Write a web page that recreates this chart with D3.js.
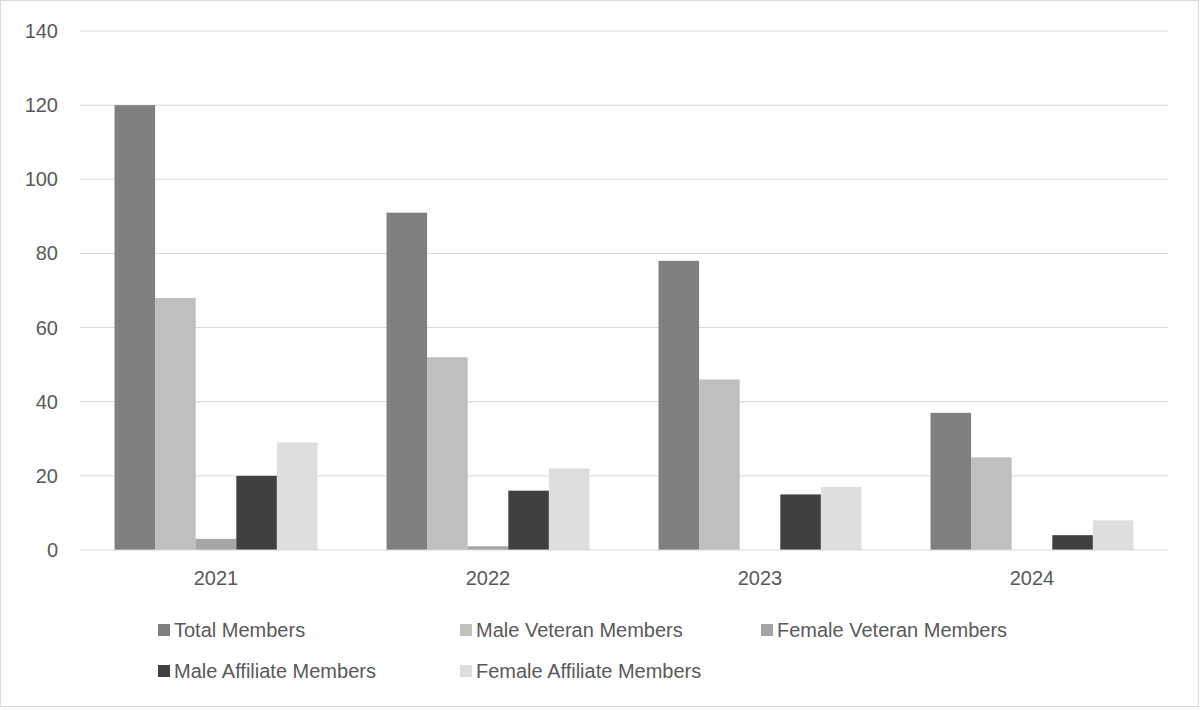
<!DOCTYPE html>
<html>
<head>
<meta charset="utf-8">
<script src="https://d3js.org/d3.v7.min.js"></script>
<style>
  body { margin: 0; background: #fff; }
  text { font-family: "Liberation Sans", Arial, sans-serif; fill: #595959; }
</style>
</head>
<body>
<div id="chart"></div>
<script>
const years = ["2021", "2022", "2023", "2024"];
const seriesNames = ["Total Members", "Male Veteran Members", "Female Veteran Members",
  "Male Affiliate Members", "Female  Affiliate Members"];
const totalMembers = [120, 91, 78, 37];
const maleVeteran = [68, 52, 46, 25];
const femaleVeteran = [3, 1, 0, 0];
const maleAffiliate = [20, 16, 15, 4];
const femaleAffiliate = [29, 22, 17, 8];
const yTicks = [0, 20, 40, 60, 80, 100, 120, 140];
const colors = ["#7f7f7f", "#bfbfbf", "#a5a5a5", "#404040", "#dedede"];

const series = [totalMembers, maleVeteran, femaleVeteran, maleAffiliate, femaleAffiliate];

const W = 1200, H = 710;
const svg = d3.select("#chart").append("svg").attr("width", W).attr("height", H);

svg.append("rect").attr("x", 0.5).attr("y", 0.5).attr("width", W - 2).attr("height", H - 4)
  .attr("fill", "#fff").attr("stroke", "#d9d9d9");

const plotLeft = 80, plotRight = 1168, plotTop = 31, plotBottom = 550;

const x = d3.scaleBand().domain(years).range([plotLeft, plotRight]).paddingInner(0).paddingOuter(0);
const x1 = d3.scaleBand().domain(d3.range(series.length)).range([0, x.bandwidth()])
  .paddingOuter(0.85).paddingInner(0);
const y = d3.scaleLinear().domain([0, 140]).range([plotBottom, plotTop]);

// gridlines
svg.append("g").selectAll("line").data(yTicks.slice(1)).join("line")
  .attr("x1", plotLeft).attr("x2", plotRight)
  .attr("y1", d => y(d)).attr("y2", d => y(d))
  .attr("stroke", "#d9d9d9").attr("stroke-width", 1);

// y labels
svg.append("g").selectAll("text").data(yTicks).join("text")
  .attr("x", 58).attr("y", d => y(d)).attr("dy", "0.35em")
  .attr("text-anchor", "end").attr("font-size", 20).text(d => d);

// bars
years.forEach((yr, i) => {
  svg.append("g").selectAll("rect").data(series.map((s, k) => ({ k, v: s[i] }))).join("rect")
    .attr("x", d => x(yr) + x1(d.k))
    .attr("width", x1.bandwidth())
    .attr("y", d => y(d.v))
    .attr("height", d => plotBottom - y(d.v))
    .attr("fill", d => colors[d.k]);
});

// baseline
svg.append("line").attr("x1", plotLeft).attr("x2", plotRight).attr("y1", plotBottom).attr("y2", plotBottom)
  .attr("stroke", "#d9d9d9");

// x labels
svg.append("g").selectAll("text").data(years).join("text")
  .attr("x", d => x(d) + x.bandwidth() / 2).attr("y", 585)
  .attr("text-anchor", "middle").attr("font-size", 20).text(d => d);

// legend
const legendPos = [[158, 630], [460, 630], [761, 630], [158, 671], [460, 671]];
seriesNames.forEach((name, k) => {
  const [lx, ly] = legendPos[k];
  svg.append("rect").attr("x", lx).attr("y", ly - 6).attr("width", 12).attr("height", 12)
    .attr("fill", colors[k]);
  svg.append("text").attr("x", lx + 16).attr("y", ly).attr("dy", "0.35em")
    .attr("font-size", 20).text(name);
});
</script>
</body>
</html>
